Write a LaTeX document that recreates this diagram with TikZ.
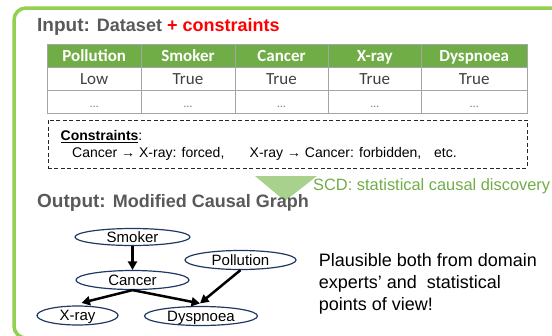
\documentclass[tikz,border=0pt]{standalone}
\usepackage{fontspec}
\setmainfont{Liberation Sans}
\newfontfamily\calibri{Carlito}
\usetikzlibrary{arrows.meta,shapes.geometric,calc}
\definecolor{framegreen}{HTML}{92D050}
\definecolor{hdrgreen}{HTML}{70AD47}
\definecolor{trigreen}{HTML}{A9D18E}
\definecolor{scdgreen}{HTML}{70AD47}
\definecolor{titlegray}{HTML}{595959}
\definecolor{gridgray}{HTML}{A5A5A5}
\definecolor{cellgray}{HTML}{404040}
\definecolor{navy}{HTML}{203864}
\newcommand{\fsz}[1]{\fontsize{#1}{#1}\selectfont}
\begin{document}
\begin{tikzpicture}[x=1pt,y=-1pt,
  hdr/.style={font=\calibri\bfseries\fsz{17}, text=white, inner sep=0pt, anchor=base},
  cell/.style={font=\calibri\fsz{17}, text=cellgray, inner sep=0pt, anchor=base},
  dots/.style={font=\calibri\fsz{12}, text=gray, inner sep=0pt, anchor=base},
  var/.style={ellipse, draw=navy, line width=1.2pt, inner sep=0pt, text height=10.5pt, text depth=0pt, font=\fsz{15}},
  arr/.style={-{Triangle[length=8.5pt,width=9pt]}, line width=2.5pt},
  plain/.style={inner sep=0pt, anchor=base west},
  grid/.style={gridgray, line width=1pt},
]
\useasboundingbox (0,0) rectangle (552,335);
\begin{scope}
  \clip (0,0) rectangle (552,335);
  \draw[framegreen, line width=3.5pt, rounded corners=12pt] (14,338) rectangle (620,8);
\end{scope}

% input title
\node[plain, text=titlegray, font=\bfseries] (intitle) at (37,31.5)
  {\fsz{19}Input: \fsz{18}Dataset \textcolor{red}{+ constraints}};

% table
\fill[hdrgreen] (47.5,44) rectangle (527,67);
\draw[grid] (47.5,44) rectangle (527,113.3);
\foreach \yy in {67,90.7} \draw[grid] (47.5,\yy) -- (527,\yy);
\foreach \xx in {141,235,328,421.5} \draw[grid] (\xx,44) -- (\xx,113.3);
\foreach \cx/\nm/\hd/\vl in {94.2/pol/Pollution/Low, 188/smo/Smoker/True, 281.5/can/Cancer/True, 374.7/xra/X-ray/True, 474.2/dys/Dyspnoea/True} {
  \node[hdr] (h\nm) at (\cx,61.5) {\hd};
  \node[cell] (v\nm) at (\cx,84.5) {\vl};
  \node[dots] (d\nm) at (\cx,107) {…};
}

% constraints box
\node[draw=black!85, line width=0.9pt, dash pattern=on 4pt off 2.5pt, minimum width=479.5pt, minimum height=48pt, anchor=north west, inner sep=0pt] (cbox) at (47.5,119.5) {};
\node[plain, font=\fsz{14}] (ctitle) at (60.5,140.5) {{\bfseries\underline{Constraints}}:};
\node[plain, font=\fsz{14}] (c1) at (72,157.5) {Cancer → X-ray: forced,};
\node[plain, font=\fsz{14}] (c2) at (249.5,157.5) {X-ray → Cancer: forbidden,};
\node[plain, font=\fsz{14}] (c3) at (434,157.5) {etc.};

% SCD arrow
\fill[trigreen] (255,176) -- (317,176) -- (285,201) -- cycle;
\node[plain, text=scdgreen, font=\fsz{16.4}] (scd) at (313,190) {SCD: statistical causal discovery};

% output title
\node[plain, text=titlegray, font=\bfseries] (outtitle) at (37,207.5)
  {\fsz{19}Output: \fsz{18}Modified Causal Graph};

% graph
\node[var, minimum width=115pt, minimum height=17pt] (smoker) at (132.5,237) {Smoker};
\node[var, minimum width=113pt, minimum height=19pt] (cancer) at (132.5,280) {Cancer};
\node[var, minimum width=111pt, minimum height=19pt] (pollution) at (240.5,260) {Pollution};
\node[var, minimum width=81pt, minimum height=19pt] (xray) at (77.5,315.5) {X-ray};
\node[var, minimum width=113pt, minimum height=19pt] (dysp) at (201,316) {Dyspnoea};

\draw[arr] (smoker.south) -- (smoker.south |- cancer.north);
\draw[arr] (cancer.south) -- ($(xray.north)+(4,-2.5)$);
\draw[arr] (cancer.south) -- ($(dysp.north)+(-1,-2.5)$);
\draw[arr] (pollution.south) -- ($(dysp.north)+(-1,-2.5)$);

% note
\node[plain, font=\fsz{18}] (n1) at (318.7,266) {Plausible both from domain};
\node[plain, font=\fsz{18}] (n2) at (318.7,288) {experts’ and\ \ statistical};
\node[plain, font=\fsz{18}] (n3) at (318.7,310) {points of view!};
\end{tikzpicture}
\end{document}
